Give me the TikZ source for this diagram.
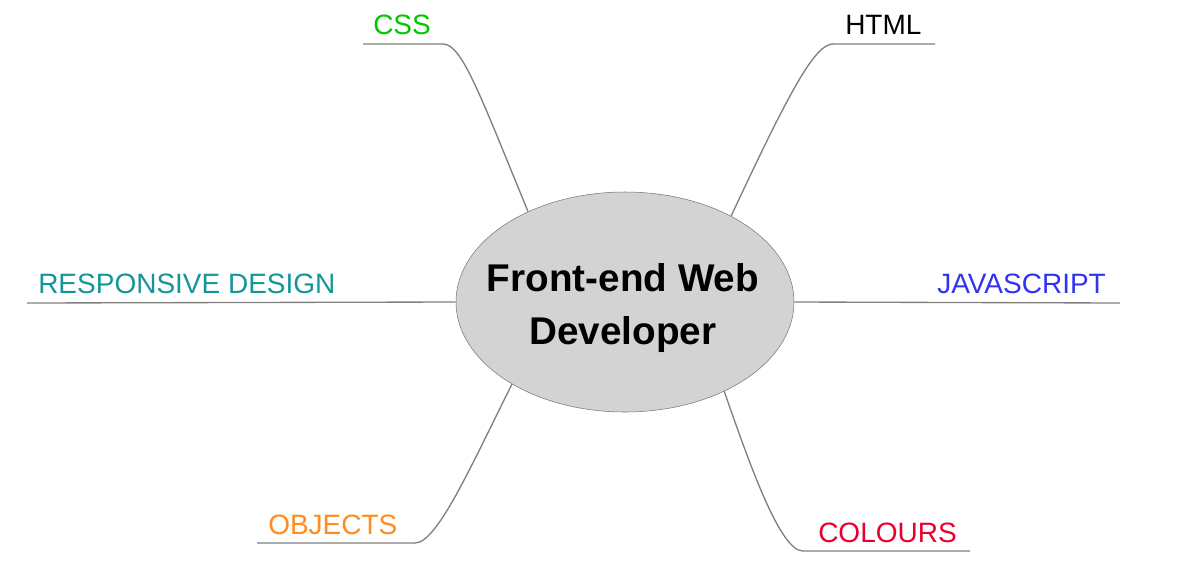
\documentclass[tikz,border=0pt]{standalone}
\usepackage{fontspec}
\setmainfont{Liberation Sans}
\usetikzlibrary{shapes.geometric}
\definecolor{linegray}{RGB}{128,128,128}
\definecolor{rimgray}{RGB}{120,120,120}
\definecolor{bodygray}{RGB}{211,211,211}
\definecolor{cssgreen}{RGB}{0,200,0}
\definecolor{respteal}{RGB}{20,150,152}
\definecolor{jsblue}{RGB}{50,50,245}
\definecolor{objorange}{RGB}{255,140,30}
\definecolor{colred}{RGB}{235,0,45}
\begin{document}
\begin{tikzpicture}[x=0.75pt,y=-0.75pt,
                    branch/.style = {line width=1pt,draw=linegray},
                    topic/.style = {anchor=base west,inner sep=0pt,font=\fontsize{21}{25}\selectfont}]
  \useasboundingbox (0,0) rectangle (1199,561);

  \node[ellipse,draw=rimgray,fill=bodygray,minimum width=253.5pt,minimum height=165pt,
        inner sep=0pt] (dev) at (625,302) {};
  \node[align=center,inner sep=0pt,font=\bfseries\fontsize{29}{39.75}\selectfont]
        (devtext) at (623,308) {Front-end Web\\Developer};

  \node[topic,text=cssgreen] (css) at (373,34) {CSS};
  \node[topic,text=black] (html) at (845,34) {HTML};
  \node[topic,text=respteal] (resp) at (38,293) {RESPONSIVE DESIGN};
  \node[topic,text=jsblue] (js) at (937,293) {JAVASCRIPT};
  \node[topic,text=objorange] (obj) at (268,534) {OBJECTS};
  \node[topic,text=colred] (col) at (818,542) {COLOURS};

  \coordinate (css-l) at (363,44);
  \coordinate (css-r) at (443,44);
  \coordinate (html-l) at (833,44);
  \coordinate (html-r) at (935,44);
  \coordinate (resp-l) at (27,303);
  \coordinate (js-r) at (1120,303);
  \coordinate (obj-l) at (257,543);
  \coordinate (obj-r) at (415,543);
  \coordinate (col-l) at (803,551);
  \coordinate (col-r) at (970,551);

  \draw[branch] (css-l) -- (css-r) .. controls (462,44) and (480,95) .. (dev.137.8);
  \draw[branch] (html-r) -- (html-l) .. controls (815,44) and (790,90) .. (dev.39.1);
  \draw[branch] (resp-l) -- (dev.180);
  \draw[branch] (dev.0) -- (js-r);
  \draw[branch] (obj-l) -- (obj-r) .. controls (437,543) and (470,468) .. (dev.216.5);
  \draw[branch] (col-r) -- (col-l) .. controls (780,551) and (750,465) .. (dev.318.3);
\end{tikzpicture}
\end{document}
